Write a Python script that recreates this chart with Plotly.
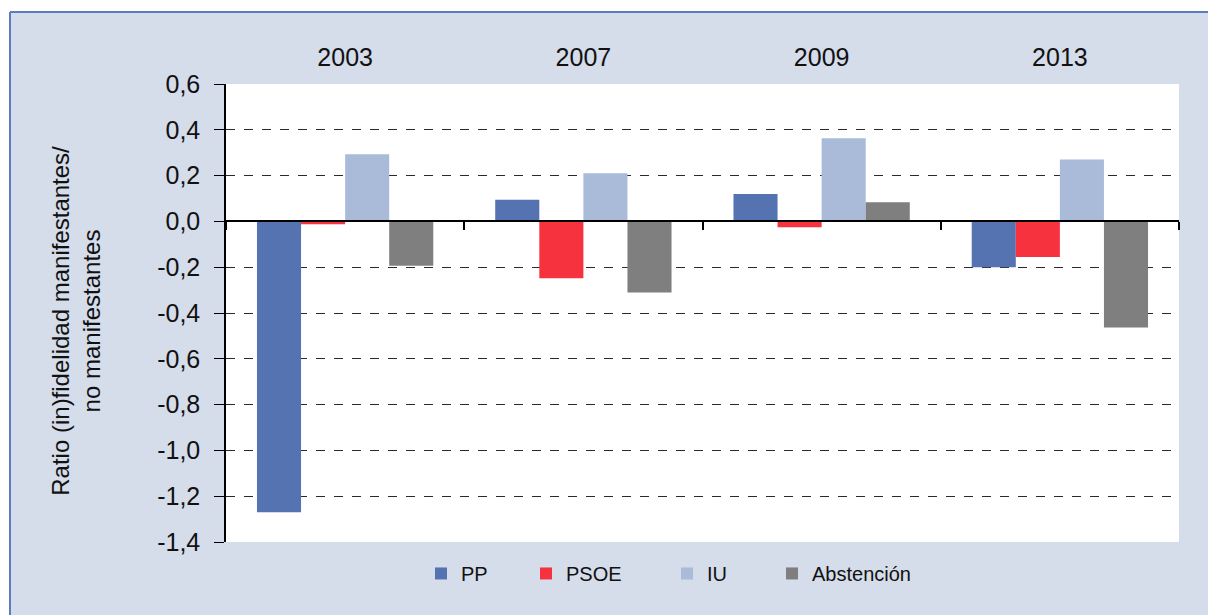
import plotly.graph_objects as go

years = ["2003", "2007", "2009", "2013"]
pp = [-1.27, 0.095, 0.12, -0.20]
psoe = [-0.012, -0.248, -0.025, -0.155]
iu = [0.293, 0.21, 0.363, 0.27]
abst = [-0.194, -0.31, 0.084, -0.463]

series_names = ["PP", "PSOE", "IU", "Abstención"]
series_vals = [pp, psoe, iu, abst]
colors = ["#5473b0", "#f7323f", "#a9bbd9", "#7f7f7f"]

y_ticks = [0.6, 0.4, 0.2, 0.0, -0.2, -0.4, -0.6, -0.8, -1.0, -1.2, -1.4]
y_ticktext = [f"{v:.1f}".replace(".", ",") for v in y_ticks]
y_min, y_max = -1.4, 0.6

# figure geometry (page body margin removed by post_script)
W, H = 1208, 615
L, T, R, B = 226, 84, 29, 72.5
pw = W - L - R
ph = H - T - B

def px_x(px):  # window x pixel -> paper fraction
    return (px - L) / pw

def px_y(py):  # window y pixel -> paper fraction
    return (H - B - py) / ph

legend_names = ["legend", "legend2", "legend3", "legend4"]
legend_left_px = [421, 526, 667, 772]

fig = go.Figure()
for name, vals, col, lg in zip(series_names, series_vals, colors, legend_names):
    fig.add_trace(go.Bar(x=years, y=vals, name=name, marker_color=col,
                         marker_line_width=0, legend=lg))
# invisible trace carrying the bottom (zero-line) category axis
fig.add_trace(go.Scatter(x=years, y=[None] * len(years), xaxis="x2",
                         showlegend=False, hoverinfo="skip"))

tickfont = dict(family="Liberation Sans, Arial, sans-serif", size=25, color="#111111")
legfont = dict(family="Liberation Sans, Arial, sans-serif", size=20, color="#111111")

legends = {}
for lg, lx in zip(legend_names, legend_left_px):
    legends[lg] = dict(orientation="h", x=px_x(lx), xanchor="left",
                       y=px_y(574), yanchor="middle", font=legfont,
                       bgcolor="rgba(0,0,0,0)", itemwidth=30)

fig.update_layout(
    width=W, height=H,
    margin=dict(l=L, r=R, t=T, b=B),
    paper_bgcolor="#d5dcea",
    plot_bgcolor="#ffffff",
    barmode="group", bargap=0.26, bargroupgap=0,
    showlegend=True,
    **legends,
    xaxis=dict(side="top", type="category", categoryorder="array", categoryarray=years,
               range=[-0.5, len(years) - 0.5], showline=False, showgrid=False,
               ticks="", tickfont=tickfont, ticklabelstandoff=12, fixedrange=True),
    xaxis2=dict(overlaying="x", anchor="free", position=(0 - y_min) / (y_max - y_min),
                side="bottom", type="category", categoryorder="array", categoryarray=years,
                range=[-0.5, len(years) - 0.5], showline=True, linecolor="#000000",
                linewidth=1.5, ticks="outside", tickson="boundaries", ticklen=8,
                tickcolor="#000000", tickwidth=1.5, showticklabels=False, showgrid=False),
    yaxis=dict(range=[y_min, y_max], tickvals=y_ticks, ticktext=y_ticktext,
               showline=True, linecolor="#000000", linewidth=1.5,
               ticks="outside", ticklen=10, tickcolor="#000000", tickwidth=1.2,
               ticklabelstandoff=9,
               showgrid=True, gridcolor="#2a2a2a", gridwidth=1.4, griddash="dash",
               zeroline=False, tickfont=tickfont),
)

fig.add_annotation(
    text="Ratio (in)fidelidad manifestantes/<br>no manifestantes",
    xref="paper", yref="paper", x=px_x(76), y=px_y(321), xanchor="center", yanchor="middle",
    textangle=-90, showarrow=False,
    font=dict(family="Liberation Sans, Arial, sans-serif", size=24, color="#111111"),
)

# outer frame: white margin at top/left, blue border lines on top and left
fx = px_x(10)
fy = px_y(12)
fig.add_shape(type="rect", xref="paper", yref="paper", x0=px_x(-5), x1=px_x(W + 5),
              y0=fy, y1=px_y(-5), fillcolor="#ffffff", line_width=0, layer="below")
fig.add_shape(type="rect", xref="paper", yref="paper", x0=px_x(-5), x1=fx,
              y0=px_y(H + 5), y1=px_y(-5), fillcolor="#ffffff", line_width=0, layer="below")
fig.add_shape(type="line", xref="paper", yref="paper", x0=fx, x1=px_x(W + 5), y0=fy, y1=fy,
              line=dict(color="#5a7cc1", width=2))
fig.add_shape(type="line", xref="paper", yref="paper", x0=fx, x1=fx, y0=px_y(H + 5), y1=fy,
              line=dict(color="#5a7cc1", width=2))

fig.write_html(
    "out.html",
    config={"displayModeBar": False},
    post_script="document.body.style.margin='0';document.body.style.overflow='hidden';",
)
